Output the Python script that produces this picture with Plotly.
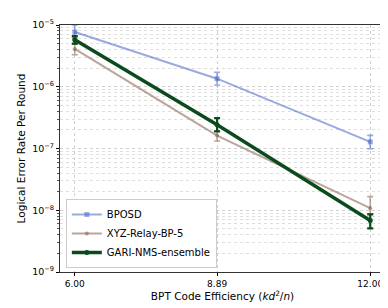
import plotly.graph_objects as go

x_vals = [6.00, 8.89, 12.00]
x_labels = ["6.00", "8.89", "12.00"]

bposd = [7.7e-6, 1.35e-6, 1.28e-7]
bposd_hi = [1.0e-5, 1.72e-6, 1.63e-7]
bposd_lo = [6.2e-6, 1.07e-6, 9.9e-8]

xyz = [4.1e-6, 1.62e-7, 1.08e-8]
xyz_hi = [4.9e-6, 1.92e-7, 1.66e-8]
xyz_lo = [3.3e-6, 1.32e-7, 8.8e-9]

gari = [5.75e-6, 2.42e-7, 6.8e-9]
gari_hi = [6.6e-6, 3.1e-7, 8.6e-9]
gari_lo = [5.0e-6, 1.89e-7, 5.1e-9]

series = [
    ("BPOSD", bposd, bposd_hi, bposd_lo, "rgba(70,100,200,0.55)", 2, "square", 5),
    ("XYZ-Relay-BP-5", xyz, xyz_hi, xyz_lo, "rgba(140,105,85,0.6)", 2, "circle", 4),
    ("GARI-NMS-ensemble", gari, gari_hi, gari_lo, "#0b4a1c", 3.5, "circle", 5),
]

fig = go.Figure()
for name, v, hi, lo, col, w, sym, ms in series:
    fig.add_trace(go.Scatter(
        x=x_vals, y=v, name=name, mode="lines+markers",
        line=dict(color=col, width=w),
        marker=dict(color=col, symbol=sym, size=ms),
        error_y=dict(type="data", symmetric=False,
                     array=[h - a for h, a in zip(hi, v)],
                     arrayminus=[a - l for a, l in zip(v, lo)],
                     color=col, thickness=1.6 if w < 3 else 2.2, width=3),
    ))

fig.update_layout(
    width=388, height=308,
    margin=dict(l=52, r=10, t=14, b=44),
    paper_bgcolor="white", plot_bgcolor="white",
    font=dict(family="DejaVu Sans", size=10, color="black"),
    showlegend=True,
    legend=dict(x=0.018, y=0.016, xanchor="left", yanchor="bottom",
                bgcolor="white", bordercolor="#cccccc", borderwidth=1,
                font=dict(size=10), tracegroupgap=0, itemwidth=30),
)
fig.update_xaxes(
    range=[5.7, 12.3], tickvals=x_vals, ticktext=x_labels,
    showgrid=True, gridcolor="#d0d0d0", griddash="dot", gridwidth=1,
    ticks="outside", ticklen=3, tickcolor="black",
    showline=True, linecolor="#333333", linewidth=1, mirror=True,
    zeroline=False, tickfont=dict(size=9),
    title=dict(text="BPT Code Efficiency (<i>kd</i><sup>2</sup>/<i>n</i>)", standoff=3, font=dict(size=10.5)),
)
fig.update_yaxes(
    type="log", range=[-9, -5], dtick=1,
    tickvals=[1e-9, 1e-8, 1e-7, 1e-6, 1e-5],
    ticktext=["10<sup>−9</sup>", "10<sup>−8</sup>", "10<sup>−7</sup>", "10<sup>−6</sup>", "10<sup>−5</sup>"],
    showgrid=True, gridcolor="#d0d0d0", griddash="dot", gridwidth=1,
    ticks="outside", ticklen=3, tickcolor="black",
    minor=dict(showgrid=True, gridcolor="#dedede", griddash="dot",
               ticks="outside", ticklen=2, tickcolor="#555555",
               tickvals=[m * 10.0 ** e for e in range(-9, -5) for m in range(2, 10)]),
    showline=True, linecolor="#333333", linewidth=1, mirror=True,
    zeroline=False, tickfont=dict(size=9.5),
    title=dict(text="Logical Error Rate Per Round", standoff=4, font=dict(size=10.5)),
)

fig.write_html("out.html")
